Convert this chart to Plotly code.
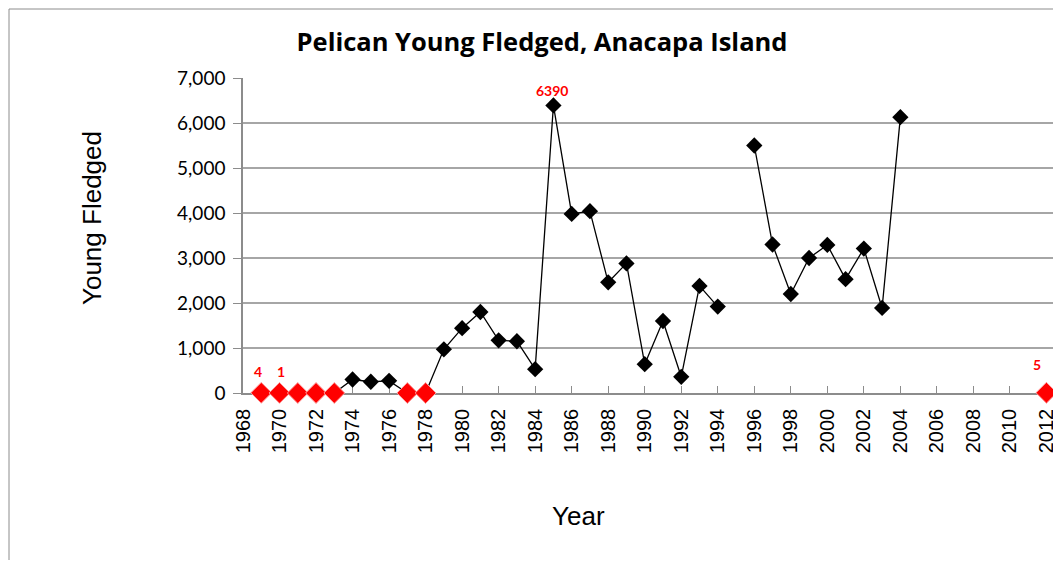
import plotly.graph_objects as go

# Data
years = [1969, 1970, 1971, 1972, 1973, 1974, 1975, 1976, 1977, 1978, 1979, 1980, 1981,
         1982, 1983, 1984, 1985, 1986, 1987, 1988, 1989, 1990, 1991, 1992, 1993, 1994,
         1995, 1996, 1997, 1998, 1999, 2000, 2001, 2002, 2003, 2004]
fledged = [4, 1, 0, 0, 0, 300, 250, 270, 0, 0, 970, 1440, 1800,
           1170, 1150, 530, 6390, 3980, 4040, 2460, 2880, 640, 1600, 360, 2380, 1920,
           None, 5500, 3300, 2200, 3000, 3290, 2530, 3210, 1890, 6130]
low_years = [1969, 1970, 1971, 1972, 1973, 1977, 1978, 2012]
low_values = [4, 1, 0, 0, 0, 0, 0, 5]
label_years = [1969, 1970, 1985, 2012]
label_values = [4, 1, 6390, 5]
label_texts = ["4", "1", "6390", "5"]

# page has an 8px body margin; positions below are in page pixels
OFF = 8
L, T, W, H = 243, 78, 818, 315
FIG_W, FIG_H = 1061 - OFF, 568 - 2 * OFF


def px(x):
    return (x - L) / W


def py(y):
    return (T + H - y) / H


fig = go.Figure()
fig.add_trace(go.Scatter(
    x=years, y=fledged, mode="lines+markers", connectgaps=False,
    line=dict(color="black", width=1.3),
    marker=dict(symbol="diamond", size=12.5, color="black"),
    showlegend=False, hoverinfo="x+y"))
fig.add_trace(go.Scatter(
    x=low_years, y=low_values, mode="markers",
    marker=dict(symbol="diamond", size=16, color="#ff0000",
                line=dict(color="#ff9999", width=1)),
    showlegend=False, hoverinfo="x+y", cliponaxis=False))

yshifts = {1969: 21, 1970: 21, 1985: 15, 2012: 28}
xshifts = {1969: -3, 1970: 1.5, 1985: -1, 2012: -9}
for yr, v, t in zip(label_years, label_values, label_texts):
    fig.add_annotation(x=yr, y=v, text=t, showarrow=False,
                       xanchor="center", yanchor="middle",
                       yshift=yshifts[yr], xshift=xshifts[yr],
                       font=dict(family="Lato", size=14, color="#ff0000", weight="bold"))

fig.add_annotation(xref="paper", yref="paper", x=px(92), y=py(218), text="Young Fledged",
                   textangle=-90, showarrow=False, xanchor="center", yanchor="middle",
                   font=dict(family="Liberation Sans, Arial", size=26, color="black"))
fig.add_annotation(xref="paper", yref="paper", x=px(578), y=py(516), text="Year",
                   showarrow=False, xanchor="center", yanchor="middle",
                   font=dict(family="Liberation Sans, Arial", size=26, color="black"))

# outer chart border
fig.add_shape(type="rect", xref="paper", yref="paper",
              x0=px(9), x1=px(1090), y0=py(600), y1=py(9),
              line=dict(color="#8c8c8c", width=1), layer="below")

fig.update_layout(
    width=FIG_W, height=FIG_H,
    margin=dict(l=L - OFF, r=0, t=T - OFF, b=FIG_H - (T - OFF) - H, pad=0),
    paper_bgcolor="white", plot_bgcolor="white",
    title=dict(text="<b>Pelican Young Fledged, Anacapa Island</b>",
               x=px(542), xref="paper", xanchor="center",
               y=1 - (42 - OFF) / FIG_H, yref="container", yanchor="middle",
               font=dict(family="Open Sans", size=25.5, color="black")),
    xaxis=dict(range=[1968, 1968 + W / 18.26], tickmode="linear", tick0=1968, dtick=2,
               tickangle=-90, ticks="inside", ticklen=7, tickcolor="#8c8c8c",
               ticklabelstandoff=6, layer="below traces",
               showgrid=False, zeroline=False, showline=True, linecolor="#8c8c8c",
               linewidth=1.5,
               tickfont=dict(family="Liberation Sans, Arial", size=20, color="black")),
    yaxis=dict(range=[0, 7000], tickmode="linear", tick0=0, dtick=1000,
               tickformat=",d", ticks="outside", ticklen=8, tickcolor="#8c8c8c",
               ticklabelstandoff=4, layer="below traces",
               showgrid=True, gridcolor="#a6a6a6", gridwidth=1.5,
               zeroline=False, showline=True, linecolor="#8c8c8c", linewidth=1.5,
               tickfont=dict(family="Lato", size=19, color="black")),
)

fig.write_html("out.html")
